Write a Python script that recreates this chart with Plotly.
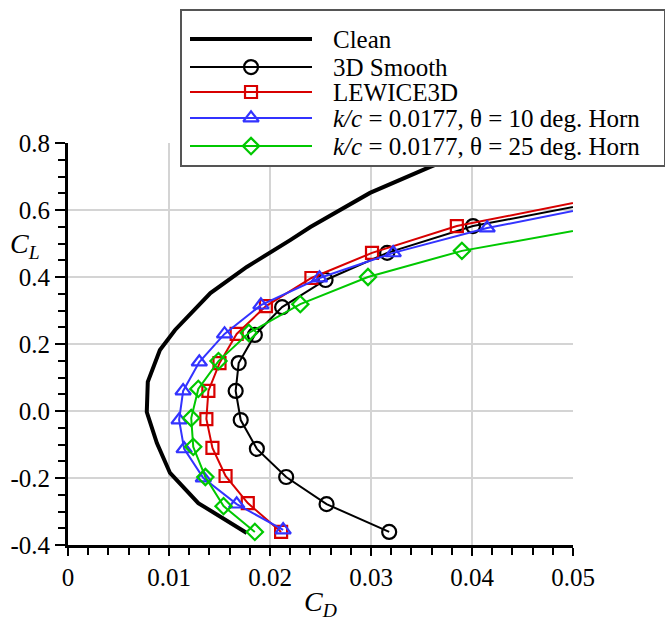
import plotly.graph_objects as go

# ---------------- data ----------------
clean_cd = [0.0177, 0.0129, 0.0101, 0.0088, 0.0078, 0.0079, 0.0091, 0.0106,
            0.0141, 0.0177, 0.0220, 0.0240, 0.0299, 0.0358, 0.0420]
clean_cl = [-0.364, -0.275, -0.185, -0.096, -0.003, 0.087, 0.182, 0.242,
            0.352, 0.430, 0.510, 0.549, 0.651, 0.728, 0.805]

smooth_cd = [0.0318, 0.0256, 0.0216, 0.0187, 0.0171, 0.0166, 0.0169, 0.0185,
             0.0212, 0.0255, 0.0316, 0.0401, 0.0580]
smooth_cl = [-0.361, -0.278, -0.197, -0.113, -0.027, 0.060, 0.143, 0.227,
             0.310, 0.391, 0.472, 0.552, 0.655]

lewice_cd = [0.0211, 0.0178, 0.0156, 0.0143, 0.0137, 0.0139, 0.0150, 0.0167,
             0.0196, 0.0241, 0.0301, 0.0385, 0.0580]
lewice_cl = [-0.361, -0.275, -0.194, -0.110, -0.024, 0.060, 0.143, 0.230,
             0.313, 0.397, 0.472, 0.552, 0.669]

horn10_cd = [0.0213, 0.0167, 0.0134, 0.0115, 0.0110, 0.0114, 0.0130, 0.0155,
             0.0191, 0.0249, 0.0322, 0.0415, 0.0580]
horn10_cl = [-0.355, -0.278, -0.200, -0.113, -0.027, 0.060, 0.146, 0.230,
             0.316, 0.397, 0.472, 0.546, 0.645]

horn25_cd = [0.0185, 0.0154, 0.0136, 0.0124, 0.0122, 0.0129, 0.0149, 0.0179,
             0.0230, 0.0297, 0.0390, 0.0580]
horn25_cl = [-0.361, -0.284, -0.197, -0.107, -0.021, 0.066, 0.149, 0.233,
             0.319, 0.400, 0.478, 0.580]

x_tickvals = [0, 0.01, 0.02, 0.03, 0.04, 0.05]
x_ticktext = ["0", "0.01", "0.02", "0.03", "0.04", "0.05"]
y_tickvals = [-0.4, -0.2, 0.0, 0.2, 0.4, 0.6, 0.8]
y_ticktext = ["-0.4", "-0.2", "0.0", "0.2", "0.4", "0.6", "0.8"]

legend_names = ["Clean", "3D Smooth", "LEWICE3D",
                "<i>k/c</i> = 0.0177, θ = 10 deg. Horn",
                "<i>k/c</i> = 0.0177, θ = 25 deg. Horn"]

# ---------------- styles ----------------
FONT = "Liberation Serif, Times New Roman, serif"
RED = "#d80000"
BLUE = "#3333ff"
GREEN = "#00c800"
W, H = 665, 624

styles = [
    dict(color="black", width=4, symbol=None, size=0),
    dict(color="black", width=2, symbol="circle-open", size=14),
    dict(color=RED, width=2, symbol="square-open", size=12),
    dict(color=BLUE, width=2, symbol="triangle-up-open", size=13.5),
    dict(color=GREEN, width=2, symbol="diamond-open", size=12.5),
]
series = [(clean_cd, clean_cl), (smooth_cd, smooth_cl), (lewice_cd, lewice_cl),
          (horn10_cd, horn10_cl), (horn25_cd, horn25_cl)]

fig = go.Figure()

for (xs, ys), st in zip(series, styles):
    if st["symbol"] is None:
        fig.add_trace(go.Scatter(x=xs, y=ys, mode="lines",
                                 line=dict(color=st["color"], width=st["width"]),
                                 showlegend=False, xaxis="x", yaxis="y"))
    else:
        fig.add_trace(go.Scatter(x=xs, y=ys, mode="lines+markers",
                                 line=dict(color=st["color"], width=st["width"]),
                                 marker=dict(symbol=st["symbol"], size=st["size"],
                                             color=st["color"],
                                             line=dict(color=st["color"], width=2.2)),
                                 showlegend=False, xaxis="x", yaxis="y"))

# ---------------- custom legend on its own subplot ----------------
fig.add_trace(go.Scatter(x=[0, 1, 1, 0, 0], y=[0, 0, 1, 1, 0], mode="lines",
                         fill="toself", fillcolor="white",
                         line=dict(width=0, color="white"),
                         showlegend=False, hoverinfo="skip",
                         xaxis="x2", yaxis="y2"))
row_y = [0.818, 0.636, 0.474, 0.305, 0.123]
lx0, lx1, lxm, ltx = 0.0166, 0.2697, 0.1432, 0.3091
for st, ry, name in zip(styles, row_y, legend_names):
    fig.add_trace(go.Scatter(x=[lx0, lx1], y=[ry, ry], mode="lines",
                             line=dict(color=st["color"], width=st["width"]),
                             showlegend=False, hoverinfo="skip",
                             xaxis="x2", yaxis="y2"))
    if st["symbol"] is not None:
        fig.add_trace(go.Scatter(x=[lxm], y=[ry], mode="markers",
                                 marker=dict(symbol=st["symbol"], size=st["size"],
                                             color=st["color"],
                                             line=dict(color=st["color"], width=2.2)),
                                 showlegend=False, hoverinfo="skip",
                                 xaxis="x2", yaxis="y2"))
    fig.add_annotation(x=ltx, y=ry, xref="x2", yref="y2", text=name,
                       showarrow=False, xanchor="left", yanchor="middle",
                       font=dict(family=FONT, size=25, color="black"))

# axis titles
fig.add_annotation(x=25 / W, y=1 - 246 / H, xref="paper", yref="paper",
                   text="<i>C</i><sub><i>L</i></sub>", showarrow=False,
                   xanchor="center", yanchor="middle",
                   font=dict(family=FONT, size=28, color="black"))
fig.add_annotation(x=320 / W, y=1 - 603 / H, xref="paper", yref="paper",
                   text="<i>C</i><sub><i>D</i></sub>", showarrow=False,
                   xanchor="center", yanchor="middle",
                   font=dict(family=FONT, size=28, color="black"))

fig.update_layout(
    width=W, height=H,
    margin=dict(l=0, r=0, t=0, b=0),
    paper_bgcolor="white", plot_bgcolor="white",
    showlegend=False,
    xaxis=dict(domain=[68 / W, 573 / W], range=[0, 0.05],
               tickvals=x_tickvals, ticktext=x_ticktext,
               showgrid=True, gridcolor="#d4d4d4", gridwidth=2,
               zeroline=False, showline=True, linecolor="black", linewidth=3,
               ticks="outside", ticklen=8, tickwidth=2, tickcolor="black",
               minor=dict(dtick=0.002, ticks="outside", ticklen=7, tickwidth=2,
                          tickcolor="black", showgrid=False),
               tickfont=dict(family=FONT, size=25, color="black"),
               automargin=False, anchor="y"),
    yaxis=dict(domain=[1 - 545 / H, 1 - 143 / H], range=[-0.4, 0.8],
               tickvals=y_tickvals, ticktext=y_ticktext,
               showgrid=True, gridcolor="#d4d4d4", gridwidth=2,
               zeroline=False, showline=True, linecolor="black", linewidth=3,
               ticks="outside", ticklen=10, tickwidth=2, tickcolor="black",
               minor=dict(dtick=0.05, ticks="outside", ticklen=7, tickwidth=2,
                          tickcolor="black", showgrid=False),
               tickfont=dict(family=FONT, size=25, color="black"),
               automargin=False, anchor="x"),
    xaxis2=dict(domain=[182 / W, 664 / W], range=[0, 1], visible=True,
                showgrid=False, zeroline=False, showticklabels=False, ticks="",
                showline=True, mirror=True, linecolor="#555555", linewidth=1.5,
                anchor="y2", fixedrange=True),
    yaxis2=dict(domain=[1 - 165 / H, 1 - 11 / H], range=[0, 1], visible=True,
                showgrid=False, zeroline=False, showticklabels=False, ticks="",
                showline=True, mirror=True, linecolor="#555555", linewidth=1.5,
                anchor="x2", fixedrange=True),
)

fig.write_html("out.html")
